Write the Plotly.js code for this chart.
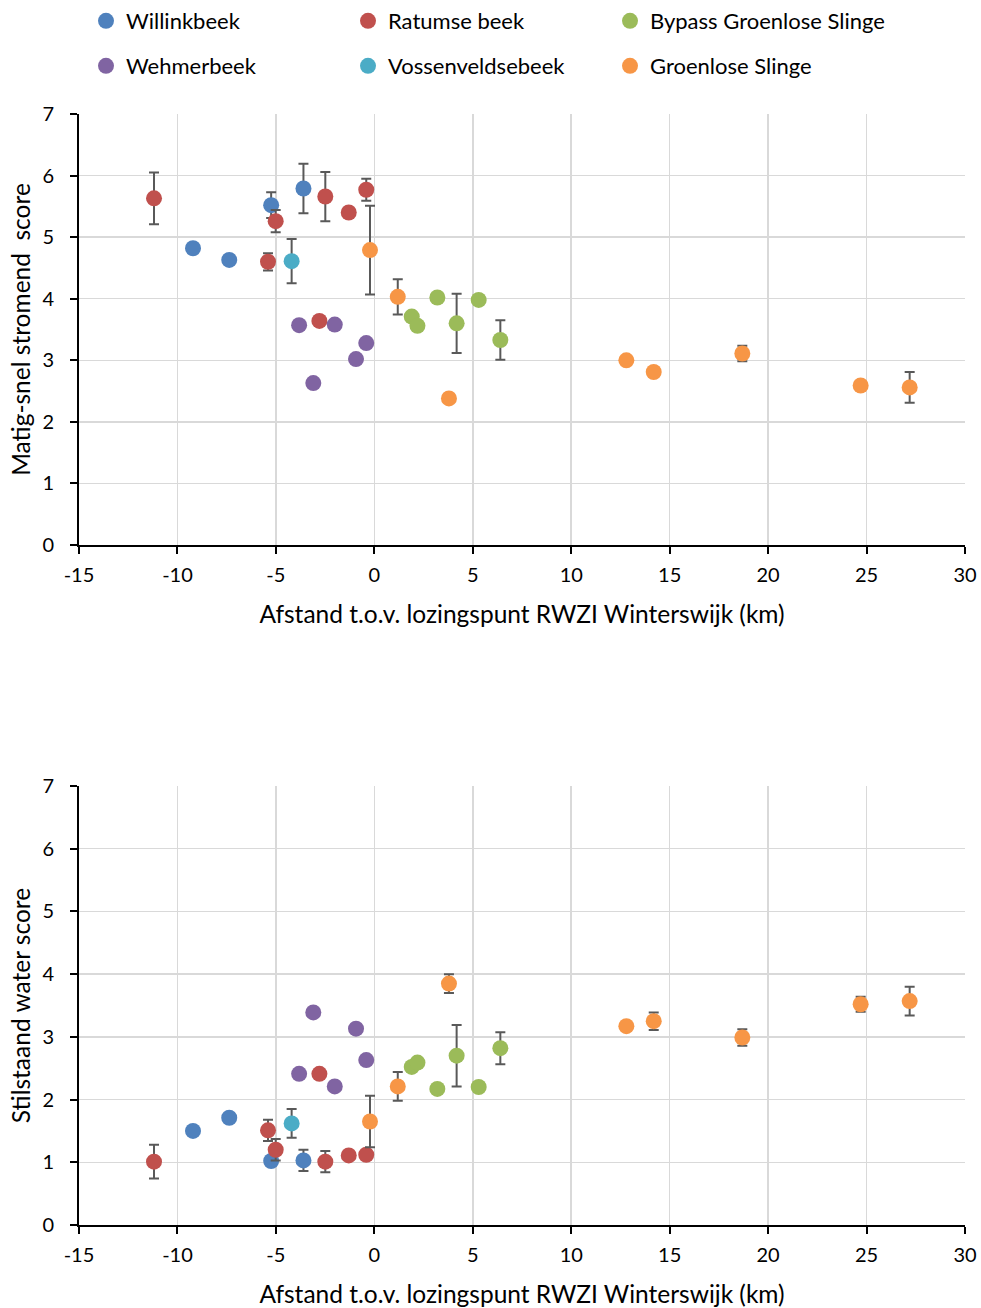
<!DOCTYPE html>
<html>
<head>
<meta charset="utf-8">
<script src="https://cdn.plot.ly/plotly-3.0.1.min.js"></script>
<style>html,body{margin:0;padding:0;background:#fff;}#chart{width:981px;height:1308px;}</style>
</head>
<body>
<div id="chart"></div>
<script>
// Series names
const seriesNames = ["Willinkbeek", "Ratumse beek", "Bypass Groenlose Slinge", "Wehmerbeek", "Vossenveldsebeek", "Groenlose Slinge"];

// Distance to discharge point (km)
const xWillink = [-9.21, -7.37, -5.24, -3.60];
const xRatumse = [-11.19, -5.40, -5.01, -2.79, -2.49, -1.30, -0.41];
const xBypass  = [1.90, 2.19, 3.20, 4.18, 5.30, 6.40];
const xWehmer  = [-3.82, -3.10, -2.01, -0.93, -0.41];
const xVossen  = [-4.20];
const xGroen   = [-0.22, 1.19, 3.79, 12.80, 14.19, 18.69, 24.70, 27.19];

// Matig-snel stromend score (top) and error
const sWillink = [4.82, 4.63, 5.52, 5.79];
const eWillink = [0, 0, 0.21, 0.40];
const sRatumse = [5.63, 4.60, 5.26, 3.64, 5.66, 5.40, 5.77];
const eRatumse = [0.42, 0.14, 0.18, 0, 0.40, 0.05, 0.18];
const sBypass  = [3.71, 3.56, 4.02, 3.60, 3.98, 3.33];
const eBypass  = [0, 0, 0, 0.48, 0, 0.32];
const sWehmer  = [3.57, 2.63, 3.58, 3.02, 3.28];
const eWehmer  = [0, 0, 0, 0, 0];
const sVossen  = [4.61];
const eVossen  = [0.36];
const sGroen   = [4.79, 4.03, 2.38, 3.00, 2.81, 3.11, 2.59, 2.56];
const eGroen   = [0.72, 0.285, 0.05, 0, 0.07, 0.125, 0, 0.25];

// Stilstaand water score (bottom) and error
const wWillink = [1.50, 1.71, 1.02, 1.03];
const ewWillink = [0, 0, 0.05, 0.17];
const wRatumse = [1.01, 1.51, 1.20, 2.41, 1.01, 1.11, 1.12];
const ewRatumse = [0.27, 0.17, 0.17, 0, 0.17, 0, 0];
const wBypass  = [2.52, 2.59, 2.17, 2.70, 2.20, 2.82];
const ewBypass = [0, 0, 0, 0.49, 0, 0.255];
const wWehmer  = [2.41, 3.39, 2.21, 3.13, 2.63];
const ewWehmer = [0, 0, 0, 0, 0];
const wVossen  = [1.62];
const ewVossen = [0.23];
const wGroen   = [1.65, 2.21, 3.85, 3.17, 3.25, 2.99, 3.52, 3.57];
const ewGroen  = [0.41, 0.23, 0.15, 0, 0.14, 0.13, 0.12, 0.23];

// Axis ticks
const xTicks = [-15, -10, -5, 0, 5, 10, 15, 20, 25, 30];
const yTicks = [0, 1, 2, 3, 4, 5, 6, 7];

const colors = ["#4f81bd", "#c0504d", "#9bbb59", "#8064a2", "#4bacc6", "#f79646"];
const xs = [xWillink, xRatumse, xBypass, xWehmer, xVossen, xGroen];
const topY = [sWillink, sRatumse, sBypass, sWehmer, sVossen, sGroen];
const topE = [eWillink, eRatumse, eBypass, eWehmer, eVossen, eGroen];
const botY = [wWillink, wRatumse, wBypass, wWehmer, wVossen, wGroen];
const botE = [ewWillink, ewRatumse, ewBypass, ewWehmer, ewVossen, ewGroen];
const legendIds = ["legend", "legend2", "legend3", "legend4", "legend5", "legend6"];

// draw order so that overlapping matches reference (orange on top of green etc.)
const drawOrder = [0, 1, 3, 4, 2, 5];

const traces = [];
drawOrder.forEach(i => {
  traces.push({
    type: "scatter", mode: "markers", name: seriesNames[i],
    x: xs[i], y: topY[i], xaxis: "x", yaxis: "y",
    marker: {color: colors[i], size: 16},
    error_y: {type: "data", array: topE[i], visible: true, color: "#595959", thickness: 2, width: 5},
    legend: legendIds[i], showlegend: true
  });
});
drawOrder.forEach(i => {
  traces.push({
    type: "scatter", mode: "markers", name: seriesNames[i],
    x: xs[i], y: botY[i], xaxis: "x2", yaxis: "y2",
    marker: {color: colors[i], size: 16},
    error_y: {type: "data", array: botE[i], visible: true, color: "#595959", thickness: 2, width: 5},
    showlegend: false
  });
});

const W = 981, H = 1308;
const fontFam = "Lato, 'Open Sans', sans-serif";
const xAx = (anchor, title) => ({
  anchor: anchor,
  domain: [79 / W, 965 / W],
  range: [-15, 30], tickvals: xTicks, ticktext: xTicks.map(String),
  showgrid: true, gridcolor: "#d9d9d9", gridwidth: 1.5,
  zeroline: false, showline: true, linecolor: "#000", linewidth: 2,
  ticks: "outside", ticklen: 7, tickwidth: 2, tickcolor: "#000",
  ticklabelstandoff: 4,
  tickfont: {family: fontFam, size: 20, color: "#000"},
  title: {text: title, font: {family: fontFam, size: 24.5, color: "#000"}, standoff: 21},
  automargin: false,
  fixedrange: true
});
const yAx = (anchor, dom, title) => ({
  anchor: anchor,
  domain: dom,
  range: [0, 7], tickvals: yTicks, ticktext: yTicks.map(String),
  showgrid: true, gridcolor: "#d9d9d9", gridwidth: 1.5,
  zeroline: false, showline: true, linecolor: "#000", linewidth: 2,
  ticks: "outside", ticklen: 7, tickwidth: 2, tickcolor: "#000",
  ticklabelstandoff: 12,
  tickfont: {family: fontFam, size: 20, color: "#000"},
  title: {text: title, font: {family: fontFam, size: 24.5, color: "#000"}, standoff: 5},
  automargin: false,
  fixedrange: true
});

// legend positions: 3 columns x 2 rows
const legCols = [86, 348, 610];
const legRows = [21, 66];
const legendBase = {
  orientation: "h", xanchor: "left", yanchor: "middle",
  font: {family: fontFam, size: 22, color: "#000"},
  bgcolor: "rgba(0,0,0,0)", itemwidth: 30
};

const layout = {
  width: W, height: H,
  margin: {l: 0, r: 0, t: 0, b: 0, autoexpand: false},
  paper_bgcolor: "#fff", plot_bgcolor: "#fff",
  showlegend: true,
  xaxis: xAx("y", "Afstand t.o.v. lozingspunt RWZI Winterswijk (km)"),
  yaxis: yAx("x", [1 - 545 / H, 1 - 114 / H], "Matig-snel stromend\u00a0 score"),
  xaxis2: xAx("y2", "Afstand t.o.v. lozingspunt RWZI Winterswijk (km)"),
  yaxis2: yAx("x2", [1 - 1225 / H, 1 - 786 / H], "Stilstaand water score"),
  font: {family: fontFam}
};
legendIds.forEach((id, i) => {
  layout[id] = Object.assign({}, legendBase, {
    x: legCols[i % 3] / W,
    y: 1 - legRows[Math.floor(i / 3)] / H
  });
});

Plotly.newPlot("chart", traces, layout, {displayModeBar: false, staticPlot: true});
</script>
</body>
</html>
